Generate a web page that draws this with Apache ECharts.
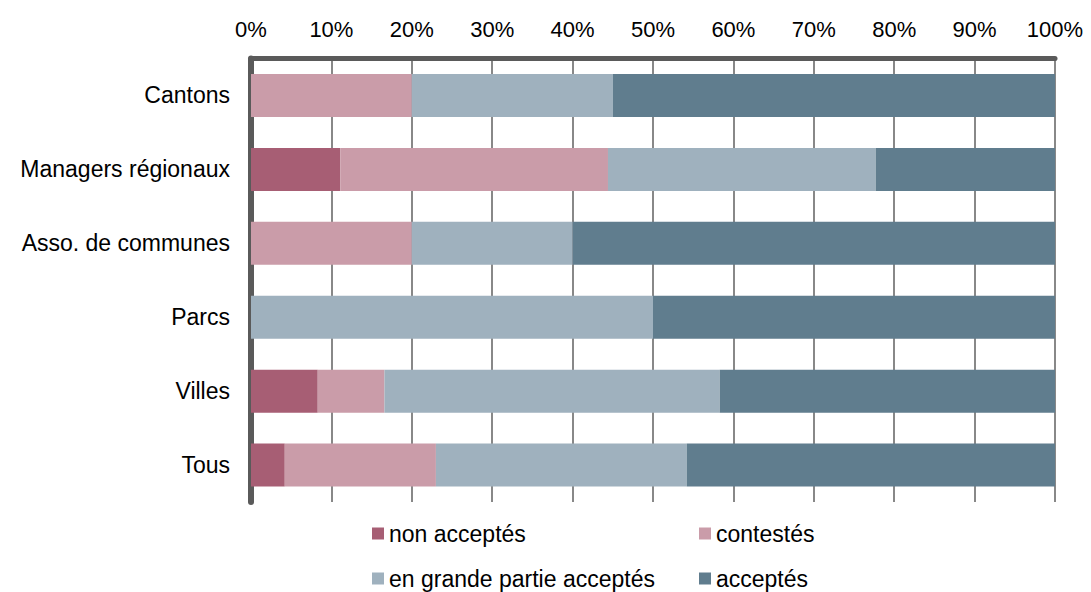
<!DOCTYPE html>
<html>
<head>
<meta charset="utf-8">
<script src="https://cdn.jsdelivr.net/npm/echarts@6/dist/echarts.min.js"></script>
<style>
  html, body { margin: 0; padding: 0; background: #fff; }
  #chart { width: 1091px; height: 592px; }
</style>
</head>
<body>
<div id="chart"></div>
<script>
var categories = ['Cantons', 'Managers régionaux', 'Asso. de communes', 'Parcs', 'Villes', 'Tous'];
var seriesNames = ['non acceptés', 'contestés', 'en grande partie acceptés', 'acceptés'];
var nonAcceptes = [0, 11.1, 0, 0, 8.3, 4.2];
var contestes = [20, 33.3, 20, 0, 8.3, 18.8];
var enGrandePartie = [25, 33.3, 20, 50, 41.7, 31.2];
var acceptes = [55, 22.3, 60, 50, 41.7, 45.8];

(function() {
  var font = "'Liberation Sans', Arial, sans-serif";
  var colors = ['#a75e74', '#ca9ca9', '#9fb1be', '#607d8e'];
  var values = [nonAcceptes, contestes, enGrandePartie, acceptes];

  // legend laid out as a 2x2 grid: one legend per item
  var legendPos = [[372, 521.5], [699, 521.5], [372, 566.5], [699, 566.5]];

  var chart = echarts.init(document.getElementById('chart'), null, { renderer: 'svg' });

  chart.setOption({
    animation: false,
    color: colors,
    grid: { left: 251, right: 36, top: 58.5, bottom: 90 },
    legend: seriesNames.map(function(name, i) {
      return {
        data: [name],
        left: legendPos[i][0],
        top: legendPos[i][1],
        padding: 0,
        itemWidth: 12,
        itemHeight: 12,
        icon: 'rect',
        selectedMode: false,
        textStyle: { color: '#000', fontSize: 23, lineHeight: 24, fontFamily: font }
      };
    }),
    xAxis: {
      type: 'value',
      position: 'top',
      min: 0,
      max: 100,
      interval: 10,
      axisLine: { show: true, lineStyle: { color: '#5a5a5a', width: 5 } },
      axisTick: { show: false },
      axisLabel: { formatter: '{value}%', color: '#000', fontSize: 22, fontFamily: font, margin: 18 },
      splitLine: { show: true, lineStyle: { color: '#888', width: 2 } }
    },
    yAxis: {
      type: 'category',
      inverse: true,
      data: categories,
      axisLine: { show: true, lineStyle: { color: '#5a5a5a', width: 6 } },
      axisTick: { show: false },
      axisLabel: { color: '#000', fontSize: 23, fontFamily: font, margin: 21 },
      splitLine: { show: false }
    },
    series: seriesNames.map(function(name, i) {
      return {
        name: name,
        type: 'bar',
        stack: 'total',
        barWidth: 43,
        data: values[i],
        itemStyle: { color: colors[i] },
        z: 1
      };
    })
  });

  window.addEventListener('resize', function() { chart.resize(); });
})();
</script>
</body>
</html>
